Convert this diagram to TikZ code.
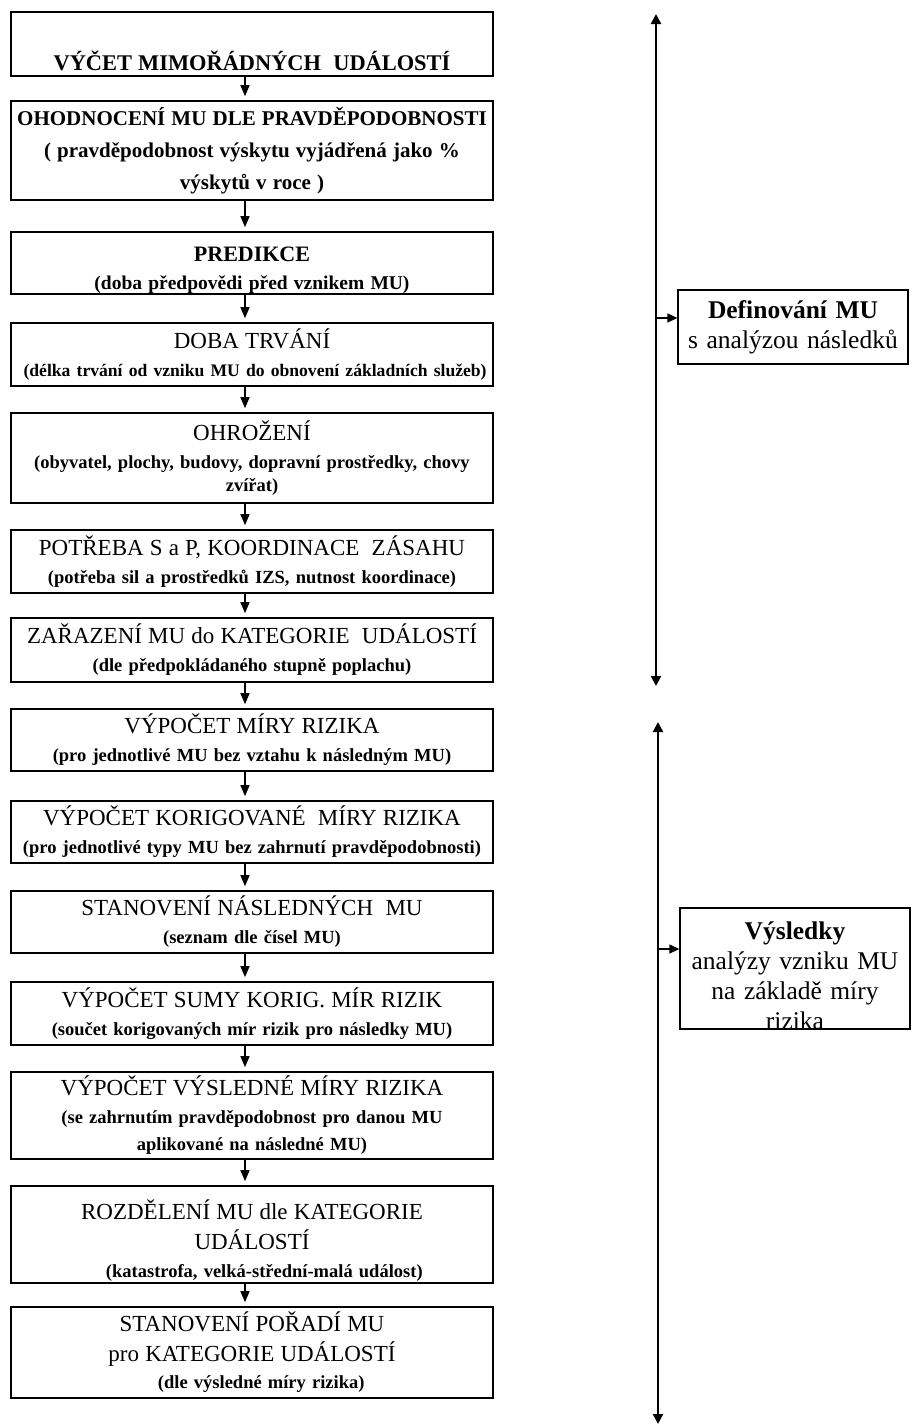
\documentclass[tikz,border=0pt]{standalone}
\usepackage{fontspec}
\setmainfont{Liberation Serif}
\usetikzlibrary{arrows.meta}

% heading and explanatory line of a stage box
\newcommand{\hdreg}[1]{{\fontsize{23}{28}\selectfont #1}}
\newcommand{\hdbold}[2][22]{{\bfseries\fontsize{#1}{28}\selectfont #2}}
\newcommand{\subln}[2][18.5]{{\bfseries\fontsize{#1}{28}\selectfont #2}}
% extra room above a first line
\newcommand{\lift}[1]{\rule{0pt}{#1}}

\tikzset{
  x=1pt, y=-1pt,
  stage/.style={draw=black, line width=1.6pt, minimum width=482pt, inner sep=0pt,
    text width=482pt, align=center, font=\fontsize{18.5}{28}\selectfont},
  notebox/.style={draw=black, line width=1.3pt, minimum width=230pt, inner sep=0pt},
  note/.style={notebox, text width=230pt, align=center, font=\fontsize{25.5}{30}\selectfont},
  notetext/.style={inner sep=0pt, text width=230pt, align=center, font=\fontsize{25.5}{30}\selectfont},
  flow/.style={line width=1.3pt, -{Triangle[width=9pt,length=11pt]}, shorten >=4pt},
  span/.style={line width=2.4pt, {Triangle[width=10pt,length=10pt]}-{Triangle[width=10pt,length=10pt]}},
  feed/.style={line width=1.3pt, -{Triangle[width=9pt,length=10pt]}},
}

\begin{document}
\begin{tikzpicture}
\useasboundingbox (0,0) rectangle (911,1425);

% main sequence of stages
\node[stage, minimum height=64pt] (b1) at (252,44) {\strut\\[6pt]\hdbold[22.4]{VÝČET MIMOŘÁDNÝCH\ \ UDÁLOSTÍ}};
\node[stage, minimum height=99pt] (b2) at (252,150.5) {\hdbold[21]{OHODNOCENÍ MU DLE PRAVDĚPODOBNOSTI}\\[4pt]
  \subln[21]{( pravděpodobnost výskytu vyjádřená jako \%}\\[4pt]
  \subln[21]{výskytů v roce )}};
\node[stage, minimum height=62pt] (b3) at (252,263) {\lift{29pt}\hdbold{PREDIKCE}\\\subln[19.5]{(doba předpovědi před vznikem MU)}};
\node[stage, minimum height=63pt] (b4) at (252,354.5) {\hdreg{DOBA TRVÁNÍ}\\\subln[17.6]{\ (délka trvání od vzniku MU do obnovení základních služeb)}};
\node[stage, minimum height=90pt] (b5) at (252,458) {\hdreg{OHROŽENÍ}\\\subln{(obyvatel, plochy, budovy, dopravní prostředky, chovy}\\[-5pt]\subln{zvířat)}};
\node[stage, minimum height=63pt] (b6) at (252,561.5) {\hdreg{POTŘEBA S a P, KOORDINACE\ \ ZÁSAHU}\\\subln{(potřeba sil a prostředků IZS, nutnost koordinace)}};
\node[stage, minimum height=64pt] (b7) at (252,650) {\hdreg{ZAŘAZENÍ MU do KATEGORIE\ \ UDÁLOSTÍ}\\\subln{(dle předpokládaného stupně poplachu)}};
\node[stage, minimum height=62pt] (b8) at (252,740) {\hdreg{VÝPOČET MÍRY RIZIKA}\\\subln{(pro jednotlivé MU bez vztahu k následným MU)}};
\node[stage, minimum height=62pt] (b9) at (252,832) {\hdreg{VÝPOČET KORIGOVANÉ\ \ MÍRY RIZIKA}\\\subln{(pro jednotlivé typy MU bez zahrnutí pravděpodobnosti)}};
\node[stage, minimum height=62pt] (b10) at (252,922) {\hdreg{STANOVENÍ NÁSLEDNÝCH\ \ MU}\\\subln{(seznam dle čísel MU)}};
\node[stage, minimum height=63pt] (b11) at (252,1013.5) {\hdreg{VÝPOČET SUMY KORIG. MÍR RIZIK}\\\subln{(součet korigovaných mír rizik pro následky MU)}};
\node[stage, minimum height=87pt] (b12) at (252,1115.5) {\hdreg{VÝPOČET VÝSLEDNÉ MÍRY RIZIKA}\\\subln{(se zahrnutím pravděpodobnost pro danou MU}\\[-1pt]\subln{aplikované na následné MU)}};
\node[stage, minimum height=97pt] (b13) at (252,1234.5) {\lift{31pt}\hdreg{ROZDĚLENÍ MU\ dle KATEGORIE}\\[2pt]\hdreg{UDÁLOSTÍ}\\\subln{\quad\ (katastrofa, velká-střední-malá událost)}};
\node[stage, minimum height=91pt] (b14) at (252,1352.5) {\hdreg{STANOVENÍ POŘADÍ MU}\\[2pt]\hdreg{pro KATEGORIE UDÁLOSTÍ}\\[-1pt]\subln{\quad(dle výsledné míry rizika)}};

% arrows between consecutive stages
\coordinate (ax) at (245,0);
\foreach \a/\b in {b1/b2,b2/b3,b3/b4,b4/b5,b5/b6,b6/b7,b7/b8,b8/b9,b9/b10,b10/b11,b11/b12,b12/b13,b13/b14}
  \draw[flow] (ax |- \a.south) -- (ax |- \b.north);

% summary boxes on the right
\node[note, minimum height=74pt] (r1) at (793,327) {{\bfseries Definování MU}\\s analýzou následků};
\node[notebox, minimum height=121pt] (r2) at (795,968.5) {};
\node[notetext] (r2txt) at (795,976) {{\bfseries Výsledky}\\analýzy vzniku MU\\na základě míry\\rizika};

% brackets spanning each group of stages
\coordinate (s1a) at (656,14);
\coordinate (s1b) at (656,686);
\coordinate (s2a) at (658,722);
\coordinate (s2b) at (658,1424);
\draw[span] (s1a) -- (s1b);
\draw[span] (s2a) -- (s2b);
\draw[feed] (s1a |- 0,318) -- (r1.west |- 0,318);
\draw[feed] (s2a |- 0,949) -- (r2.west |- 0,949);
\end{tikzpicture}
\end{document}
